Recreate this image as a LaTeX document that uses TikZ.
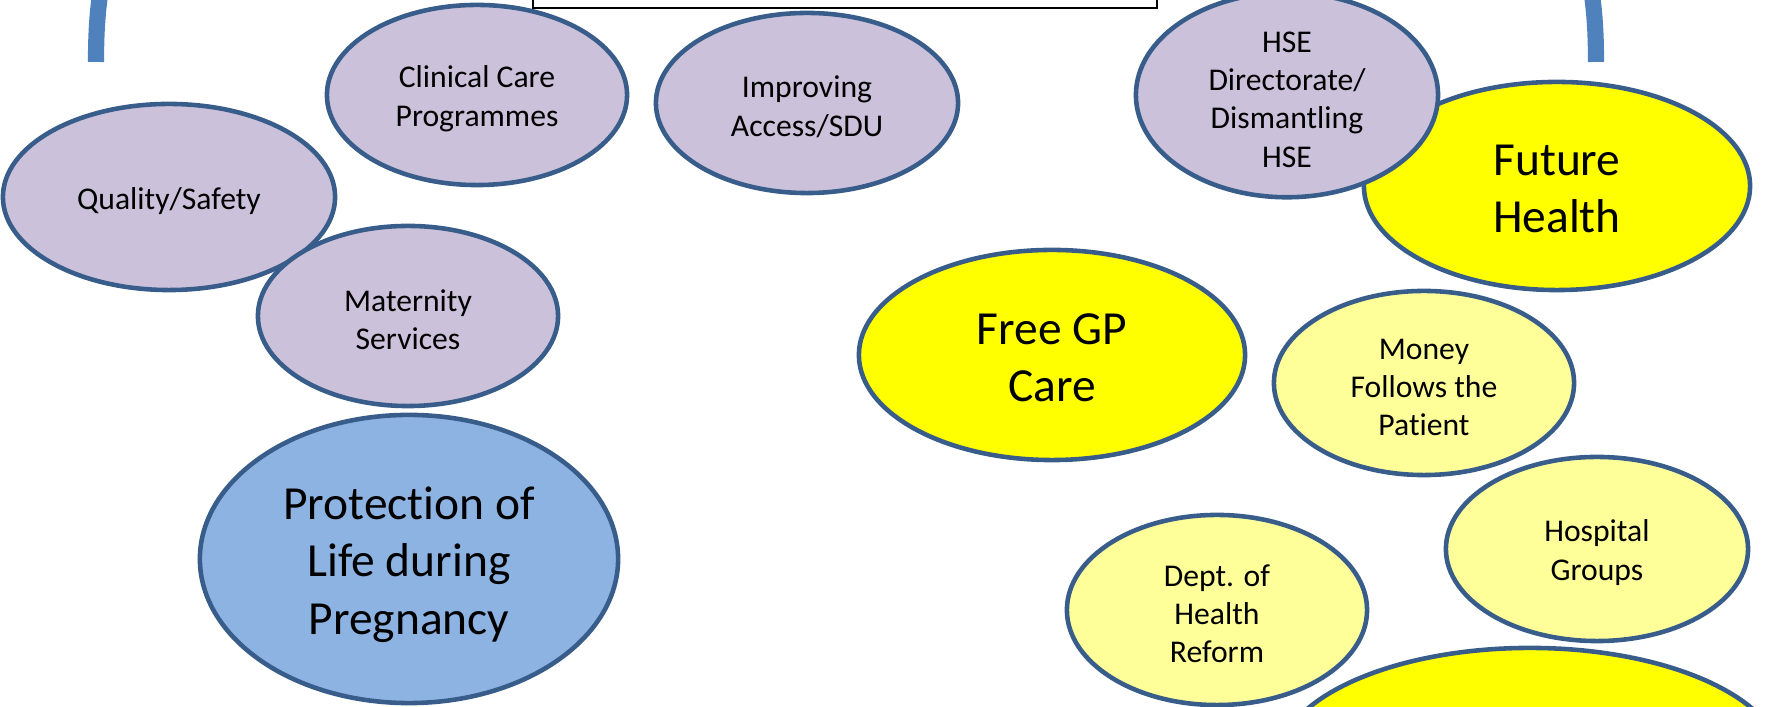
\documentclass[tikz,border=0pt]{standalone}
\usepackage{fontspec}
\setmainfont{Carlito}[RawFeature={-liga;-clig;-calt;-dlig;-rlig}]
\usepackage{tikz}
\usetikzlibrary{shapes.geometric}

\definecolor{rimblue}{RGB}{56,93,138}
\definecolor{arcblue}{RGB}{79,129,189}
\definecolor{lilac}{RGB}{204,193,218}
\definecolor{skyblue}{RGB}{141,179,226}
\definecolor{paleyellow}{RGB}{255,255,153}
\definecolor{sunyellow}{RGB}{255,255,0}

\newcommand{\smalltext}{\fontsize{9}{10.9}\selectfont}
\newcommand{\bigtext}{\fontsize{13.5}{16.4}\selectfont}
\newcommand{\lift}{\rule{0pt}{0.93em}}% a taller first line sets the text a little lower
\newcommand{\liftbig}{\rule{0pt}{0.76em}}

\begin{document}
\begin{tikzpicture}[
  x=0.01cm, y=-0.01cm,
  bubble/.style={ellipse, draw=rimblue, line width=1.3pt, inner sep=0pt, align=center, font=\smalltext},
  lilacbub/.style={bubble, fill=lilac},
  palebub/.style={bubble, fill=paleyellow},
  sunbub/.style={bubble, fill=sunyellow, font=\bigtext},
  skybub/.style={bubble, fill=skyblue, font=\bigtext},
  arcline/.style={draw=arcblue, line width=4.6pt},
  titlebox/.style={draw=black, line width=0.6pt, fill=white, minimum width=6.24cm, minimum height=1.2cm}
]
\useasboundingbox (0,0) rectangle (1768,707);
\clip (0,0) rectangle (1768,707);

% ends of the big arc
\coordinate (arcL) at (96,62);
\coordinate (arcR) at (1596,62);
\draw[arcline] (arcL) .. controls (96,20) and (99,0) .. (103,-25);
\draw[arcline] (arcR) .. controls (1596,20) and (1593,0) .. (1589,-25);

\node[titlebox] (title) at (845,-52) {};

% left group
\node[lilacbub, minimum width=3.32cm, minimum height=1.86cm] (quality) at (169,197) {\lift Quality/Safety};
\node[lilacbub, minimum width=3.0cm, minimum height=1.8cm] (clinical) at (477,95) {\lift Clinical Care\\Programmes};
\node[lilacbub, minimum width=3.02cm, minimum height=1.8cm] (access) at (807,103) {\lift Improving\\Access/SDU};
\node[lilacbub, minimum width=3.0cm, minimum height=1.8cm] (maternity) at (408,316) {\lift Maternity\\Services};
\node[skybub, minimum width=4.18cm, minimum height=2.88cm] (protection) at (409,559) {\lift Protection of\\Life during\\Pregnancy};

% right group
\node[sunbub, minimum width=3.86cm, minimum height=2.08cm] (future) at (1557,186) {\liftbig Future\\Health};
\node[lilacbub, minimum width=3.02cm, minimum height=1.82cm] (hse) at (1287,95) {\lift HSE\\Directorate/\\Dismantling\\HSE};
\node[sunbub, minimum width=3.86cm, minimum height=2.1cm] (freegp) at (1052,355) {\liftbig Free GP\\Care};
\node[palebub, minimum width=3.0cm, minimum height=1.84cm] (money) at (1424,383) {\lift Money\\Follows the\\Patient};
\node[palebub, minimum width=3.02cm, minimum height=1.84cm] (hospital) at (1597,549) {\lift Hospital\\Groups};
\node[palebub, minimum width=3.0cm, minimum height=1.9cm] (dept) at (1217,610) {\lift Dept. of\\Health\\Reform};
\node[sunbub, minimum width=5.04cm, minimum height=2.3cm] (lowsun) at (1530,763) {};
\end{tikzpicture}
\end{document}
